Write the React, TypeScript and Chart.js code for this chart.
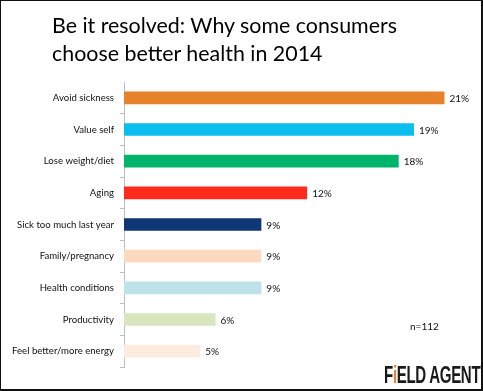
import React, { useEffect, useRef } from "react";
import { Chart, registerables } from "chart.js";

Chart.register(...registerables);

const titleLines = ["Be it resolved: Why some consumers", "choose better health in 2014"];
const categories = [
  "Avoid sickness",
  "Value self",
  "Lose weight/diet",
  "Aging",
  "Sick too much last year",
  "Family/pregnancy",
  "Health conditions",
  "Productivity",
  "Feel better/more energy",
];
const values = [21, 19, 18, 12, 9, 9, 9, 6, 5];
const barColors = [
  "#E8822A",
  "#0CBEEE",
  "#00B46A",
  "#FE2A1C",
  "#0F3775",
  "#FDD9BF",
  "#BDE2EA",
  "#D9E5BF",
  "#FCEBDE",
];
const sampleNote = "n=112";
const xMax = 23;

const FONT = "Lato, 'Open Sans', 'Liberation Sans', sans-serif";

const valueLabelPlugin = {
  id: "valueLabels",
  afterDatasetsDraw(chart: any) {
    const ctx = chart.ctx;
    const meta = chart.getDatasetMeta(0);
    ctx.save();
    ctx.font = `10px ${FONT}`;
    ctx.fillStyle = "#111111";
    ctx.textAlign = "left";
    ctx.textBaseline = "middle";
    meta.data.forEach((el: any, i: number) => {
      ctx.fillText(values[i] + "%", el.x + 5, el.y + 1);
    });
    ctx.restore();
  },
};

export default function App() {
  const canvasRef = useRef<HTMLCanvasElement | null>(null);

  useEffect(() => {
    if (!canvasRef.current) return;
    const chart = new Chart(canvasRef.current, {
      type: "bar",
      data: {
        labels: categories,
        datasets: [
          {
            data: values,
            backgroundColor: barColors,
            borderWidth: 0,
            barPercentage: 0.4,
            categoryPercentage: 1,
          },
        ],
      },
      options: {
        indexAxis: "y",
        animation: false,
        responsive: false,
        maintainAspectRatio: false,
        layout: { padding: { left: 0, top: 82, bottom: 24, right: 8 } },
        plugins: {
          legend: { display: false },
          tooltip: { enabled: false },
          title: { display: false },
        },
        scales: {
          x: {
            display: false,
            min: 0,
            max: xMax,
          },
          y: {
            afterFit: (scale: any) => {
              scale.width = 124;
            },
            border: { display: true, color: "#BFBFBF", width: 1 },
            grid: {
              offset: true,
              drawOnChartArea: false,
              drawTicks: true,
              tickLength: 4,
              color: (c: any) => (c.index === 0 ? "rgba(0,0,0,0)" : "#BFBFBF"),
            },
            ticks: {
              color: "#111111",
              padding: 6,
              font: { family: FONT, size: 9.6 },
            },
          },
        },
      },
      plugins: [valueLabelPlugin],
    });
    return () => chart.destroy();
  }, []);

  return (
    <div
      style={{
        position: "fixed",
        left: 0,
        top: 0,
        width: 483,
        height: 391,
        boxSizing: "border-box",
        borderLeft: "1px solid #111",
        borderTop: "1px solid #111",
        borderRight: "2px solid #111",
        borderBottom: "2px solid #111",
        background: "#fff",
        overflow: "hidden",
      }}
    >
      <canvas
        ref={canvasRef}
        width={483}
        height={391}
        style={{ position: "absolute", left: -1, top: -1, width: 483, height: 391 }}
      />
      <div
        style={{
          position: "absolute",
          left: 51,
          top: 10,
          fontFamily: FONT,
          fontSize: 21.4,
          lineHeight: "28px",
          color: "#000",
          whiteSpace: "nowrap",
        }}
      >
        {titleLines.map((l, i) => (
          <div key={i}>{l}</div>
        ))}
      </div>
      <div
        style={{
          position: "absolute",
          left: 409,
          top: 319,
          fontFamily: FONT,
          fontSize: 10,
          color: "#111",
        }}
      >
        {sampleNote}
      </div>
      <div
        style={{
          position: "absolute",
          left: 383,
          top: 362,
          fontFamily: "'Liberation Sans', 'DejaVu Sans', sans-serif",
          fontWeight: 700,
          fontSize: 23,
          lineHeight: "24px",
          color: "#1a1a1a",
          whiteSpace: "nowrap",
          letterSpacing: -0.5,
          transform: "scaleX(0.655)",
          transformOrigin: "left top",
        }}
      >
        F<span style={{ color: "#E8822A" }}>i</span>ELD AGENT
        <span style={{ fontSize: 7, verticalAlign: "top", lineHeight: "10px" }}>™</span>
      </div>
    </div>
  );
}
